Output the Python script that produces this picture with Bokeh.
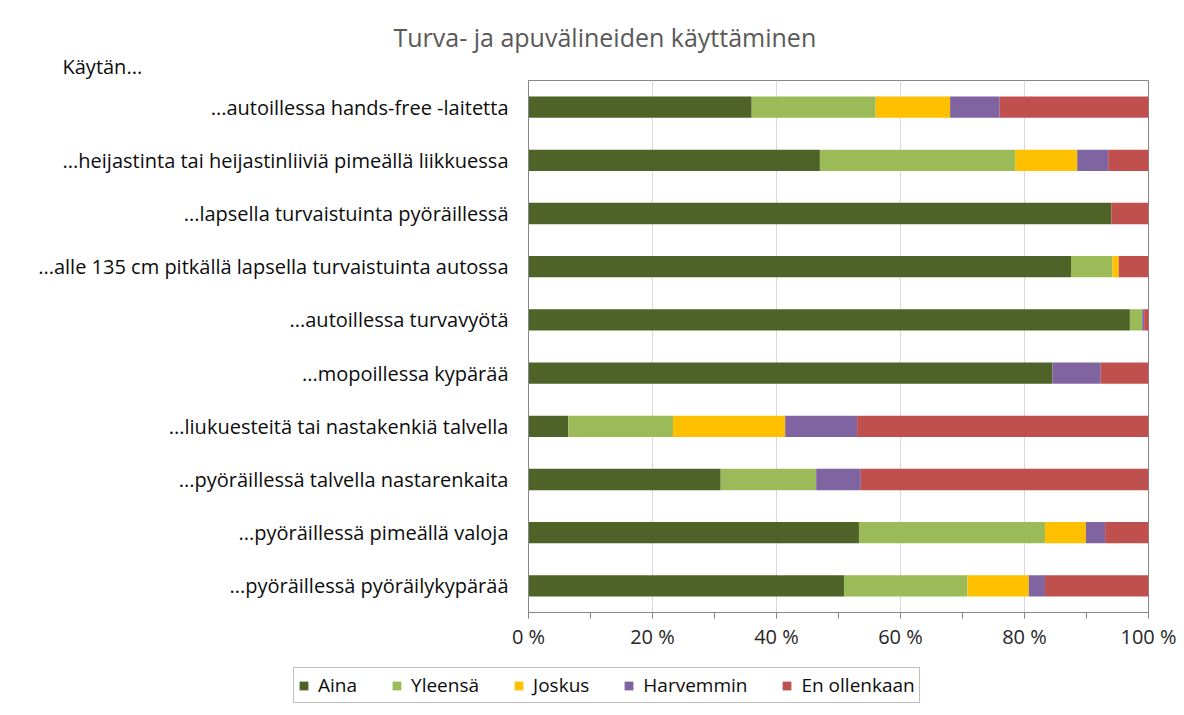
from bokeh.plotting import figure
from bokeh.models import ColumnDataSource, FactorRange, Range1d, FixedTicker, Legend, LegendItem, Title
from bokeh.layouts import column
from bokeh.embed import file_html
from bokeh.resources import INLINE

title_text = "Turva- ja apuvälineiden käyttäminen"
subtitle_text = "Käytän..."

categories = [
    "...autoillessa hands-free -laitetta",
    "...heijastinta tai heijastinliiviä pimeällä liikkuessa",
    "...lapsella turvaistuinta pyöräillessä",
    "...alle 135 cm pitkällä lapsella turvaistuinta autossa",
    "...autoillessa turvavyötä",
    "...mopoillessa kypärää",
    "...liukuesteitä tai nastakenkiä talvella",
    "...pyöräillessä talvella nastarenkaita",
    "...pyöräillessä pimeällä valoja",
    "...pyöräillessä pyöräilykypärää",
]
series = ["Aina", "Yleensä", "Joskus", "Harvemmin", "En ollenkaan"]
aina = [36.0, 47.0, 94.0, 87.5, 97.0, 84.5, 6.4, 31.0, 53.3, 50.9]
yleensa = [20.0, 31.5, 0.0, 6.7, 2.0, 0.0, 16.9, 15.4, 30.0, 19.9]
joskus = [12.0, 10.0, 0.0, 1.0, 0.0, 0.0, 18.1, 0.0, 6.6, 9.9]
harvemmin = [8.0, 5.0, 0.0, 0.0, 0.3, 7.8, 11.6, 7.2, 3.1, 2.6]
en_ollenkaan = [24.0, 6.5, 6.0, 4.8, 0.7, 7.7, 47.0, 46.4, 7.0, 16.7]
x_ticks = [0, 20, 40, 60, 80, 100]
x_tick_labels = ["0 %", "20 %", "40 %", "60 %", "80 %", "100 %"]
colors = ["#4f6228", "#9bbb59", "#ffc000", "#8064a2", "#c0504d"]

FONT = "Open Sans"
W = 1184
H_MAIN, H_LEG = 660, 55

src = ColumnDataSource(dict(
    cat=categories,
    s0=aina, s1=yleensa, s2=joskus, s3=harvemmin, s4=en_ollenkaan,
))
keys = ["s0", "s1", "s2", "s3", "s4"]

p = figure(
    width=W, height=H_MAIN, output_backend="svg", toolbar_location=None,
    y_range=FactorRange(factors=categories[::-1]),
    x_range=Range1d(0, 100),
    min_border_left=528, min_border_right=36, min_border_top=80, min_border_bottom=48,
    background_fill_color="white", border_fill_color="white",
)
p.frame_align = False

p.hbar_stack(keys, y="cat", height=0.4, color=colors, line_color=None, source=src)

minor = sorted(set(x_ticks + [(a + b) / 2 for a, b in zip(x_ticks[:-1], x_ticks[1:])]))
p.xaxis.ticker = FixedTicker(ticks=x_ticks, minor_ticks=minor)
p.xaxis.major_label_overrides = {t: l for t, l in zip(x_ticks, x_tick_labels)}
p.xaxis.major_tick_in = 0
p.xaxis.major_tick_out = 6
p.xaxis.minor_tick_in = 0
p.xaxis.minor_tick_out = 6
p.xaxis.axis_line_color = "#868686"
p.xaxis.major_tick_line_color = "#868686"
p.xaxis.minor_tick_line_color = "#868686"
p.xaxis.major_label_text_font = FONT
p.xaxis.major_label_text_font_size = "20px"
p.xaxis.major_label_text_color = "#262626"
p.xaxis.major_label_standoff = 4

p.yaxis.major_tick_in = 0
p.yaxis.major_tick_out = 0
p.yaxis.minor_tick_out = 0
p.yaxis.axis_line_color = "#868686"
p.yaxis.major_label_text_font = FONT
p.yaxis.major_label_text_font_size = "20px"
p.yaxis.major_label_text_color = "#0d0d0d"
p.yaxis.major_label_standoff = 20

p.xgrid.ticker = FixedTicker(ticks=x_ticks)
p.xgrid.grid_line_color = "#d9d9d9"
p.ygrid.grid_line_color = None
p.outline_line_color = "#868686"

p.add_layout(Title(text=subtitle_text, align="left", offset=-466, standoff=2,
                   text_font=FONT, text_font_size="20px", text_font_style="normal",
                   text_color="#0d0d0d"), "above")
p.add_layout(Title(text=title_text, align="left", offset=-135, standoff=-8,
                   text_font=FONT, text_font_size="25px", text_font_style="normal",
                   text_color="#595959"), "above")

# legend strip (separate canvas so that the legend is not clipped by the plot frame)
q = figure(
    width=W, height=H_LEG, output_backend="svg", toolbar_location=None,
    y_range=FactorRange(factors=categories[::-1]), x_range=Range1d(0, 100),
    min_border_left=0, min_border_right=0, min_border_top=0, min_border_bottom=0,
    x_axis_location=None, y_axis_location=None,
    background_fill_color="white", border_fill_color="white",
)
q.frame_align = False
q.outline_line_color = None
q.xgrid.grid_line_color = None
q.ygrid.grid_line_color = None
leg_renderers = q.hbar_stack(keys, y="cat", height=0.4, color=colors, line_color=None, source=src)
for r in leg_renderers:
    r.visible = False

items = [LegendItem(label=s, renderers=[r]) for s, r in zip(series, leg_renderers)]
legend = Legend(
    items=items, orientation="horizontal", location=(293, 12),
    border_line_color="#808080", border_line_width=1,
    label_text_font=FONT, label_text_font_size="19px", label_text_color="#0d0d0d",
    glyph_width=11, glyph_height=11, label_standoff=9, spacing=34, padding=4,
    margin=0, background_fill_color="white", click_policy="none",
)
q.add_layout(legend, "center")

layout = column(p, q, spacing=0)
open("out.html", "w").write(file_html(layout, INLINE))
